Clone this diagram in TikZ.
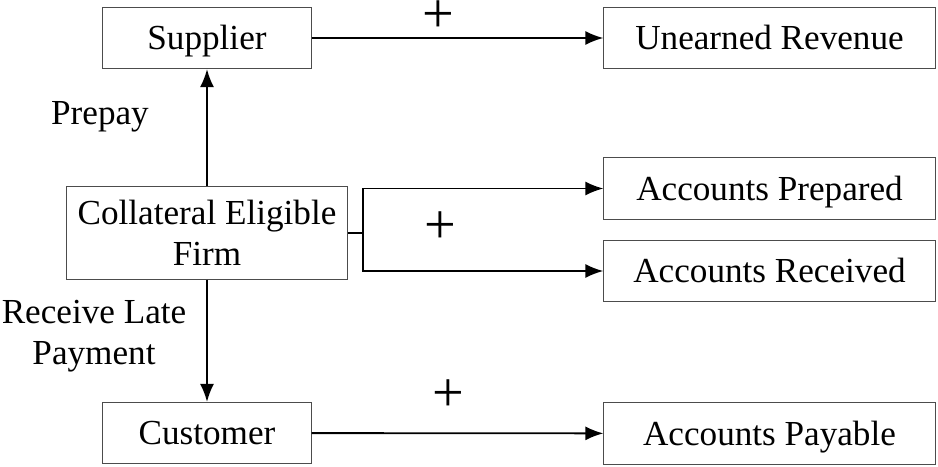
\documentclass[tikz,border=0pt]{standalone}
\usepackage{fontspec}
\setmainfont{Liberation Serif}
\usetikzlibrary{arrows.meta}
\tikzset{
  blk/.style={draw=black!70, line width=0.7pt, inner sep=0pt, align=center,
    minimum height=1.53cm},
  one/.style={blk, text height=22pt, text depth=5.5pt},
  flow/.style={line width=1.3pt, -{Latex[length=0.45cm, width=0.35cm]}},
  lbl/.style={inner sep=0pt, align=center},
  pls/.style={inner sep=0pt, anchor=base, font=\fontsize{40}{40}\selectfont}
}
\begin{document}
\begin{tikzpicture}[x=0.025cm, y=-0.025cm, font=\fontsize{25}{29}\selectfont]
    \useasboundingbox (0,0) rectangle (938,466);

    % left column
    \node[one, minimum width=5.2cm] (sup) at (207,38) {Supplier};
    \node[blk, minimum width=7cm, minimum height=2.3cm] (firm) at (207,233) {Collateral Eligible\\Firm};
    \node[one, minimum width=5.2cm] (cust) at (207,433) {Customer};

    % right column
    \node[one, minimum width=8.28cm] (unrev) at (769.5,38) {Unearned Revenue};
    \node[one, minimum width=8.28cm] (prep) at (769.5,188.5) {Accounts Prepared};
    \node[one, minimum width=8.28cm] (recv) at (769.5,271) {Accounts Received};
    \node[one, minimum width=8.28cm] (pay) at (769.5,433.5) {Accounts Payable};

    % firm to partners
    \draw[flow] (firm) -- (sup);
    \draw[flow] (firm) -- (cust);
    \node[lbl] (prepay) at (100,117) {Prepay};
    \node[lbl] (late) at (94,336) {Receive Late\\Payment};

    % effects
    \draw[flow] (sup) -- (unrev);
    \draw[flow] (cust) -- (pay);
    \coordinate (br) at (363,233);
    \draw[line width=1.3pt] (firm.east) -- (br);
    \draw[flow] (br) |- (prep.west);
    \draw[flow] (br) |- (recv.west);

    \node[pls] (p1) at (438,33) {+};
    \node[pls] (p2) at (440,243) {+};
    \node[pls] (p3) at (448,411) {+};
\end{tikzpicture}
\end{document}
